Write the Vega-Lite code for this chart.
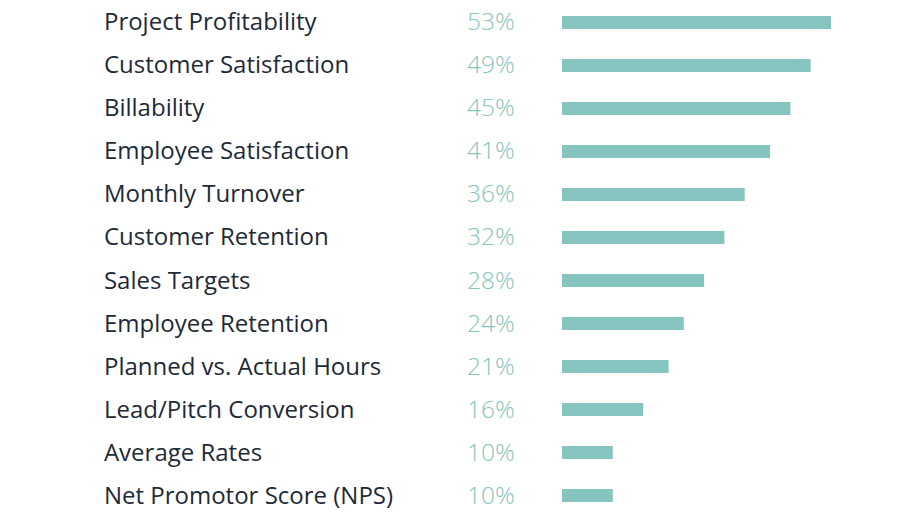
{
  "$schema": "https://vega.github.io/schema/vega-lite/v6.json",
  "width": 920,
  "height": 518,
  "autosize": {"type": "fit", "contains": "padding"},
  "padding": 0,
  "background": "white",
  "config": {"view": {"stroke": null}},
  "data": {
    "values": [
      {"metric": "Project Profitability", "pct": 53},
      {"metric": "Customer Satisfaction", "pct": 49},
      {"metric": "Billability", "pct": 45},
      {"metric": "Employee Satisfaction", "pct": 41},
      {"metric": "Monthly Turnover", "pct": 36},
      {"metric": "Customer Retention", "pct": 32},
      {"metric": "Sales Targets", "pct": 28},
      {"metric": "Employee Retention", "pct": 24},
      {"metric": "Planned vs. Actual Hours", "pct": 21},
      {"metric": "Lead/Pitch Conversion", "pct": 16},
      {"metric": "Average Rates", "pct": 10},
      {"metric": "Net Promotor Score (NPS)", "pct": 10}
    ]
  },
  "encoding": {
    "y": {
      "field": "metric",
      "type": "nominal",
      "sort": null,
      "axis": null,
      "scale": {"paddingInner": 0, "paddingOuter": 0.023}
    }
  },
  "layer": [
    {
      "mark": {"type": "bar", "height": 13, "color": "#86c4bf"},
      "encoding": {
        "x": {
          "field": "pct",
          "type": "quantitative",
          "axis": null,
          "scale": {"domain": [0, 53], "range": [562, 831], "nice": false, "zero": true}
        }
      }
    },
    {
      "mark": {"type": "text", "align": "left", "baseline": "middle", "font": "Open Sans", "fontSize": 24, "color": "#1e2a38", "dy": 1},
      "encoding": {
        "x": {"datum": -90.25, "type": "quantitative"},
        "text": {"field": "metric"}
      }
    },
    {
      "mark": {"type": "text", "align": "left", "baseline": "middle", "font": "Open Sans", "fontSize": 24.5, "fontWeight": 300, "color": "#86c4bf", "dy": 1, "text": {"expr": "datum.pct + '%'"}},
      "encoding": {
        "x": {"datum": -18.72, "type": "quantitative"}
      }
    }
  ]
}
